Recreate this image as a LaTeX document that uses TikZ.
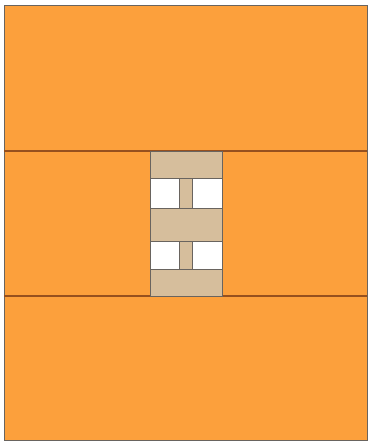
\documentclass[tikz,border=0pt]{standalone}
\usetikzlibrary{positioning}
\definecolor{SlabOrange}{RGB}{252,160,60}
\definecolor{ShaftTan}{RGB}{214,190,156}
\definecolor{JointBrown}{RGB}{150,80,30}
\definecolor{EdgeGrey}{RGB}{105,100,95}

\begin{document}
\begin{tikzpicture}[
        x=1pt, y=-1pt,
        slab/.style={fill=SlabOrange, draw=EdgeGrey, line width=0.8pt},
        joint/.style={draw=JointBrown, line width=1.2pt},
        shaft/.style={fill=ShaftTan, draw=EdgeGrey, line width=0.8pt},
        opening/.style={fill=white, draw=EdgeGrey, line width=0.8pt},
        course/.style={draw=EdgeGrey, line width=0.9pt}
    ]
        \useasboundingbox (0,0) rectangle (368,443);
        % outer block
        \draw[slab] (4,5) rectangle (367,440);
        \draw[joint] (4,151) -- (367,151);
        \draw[joint] (4,296) -- (367,296);
        % central shaft
        \draw[shaft] (150.5,151) rectangle (222.5,296);
        \draw[opening] (150.5,178) rectangle (179.5,208);
        \draw[opening] (192.5,178) rectangle (222.5,208);
        \draw[opening] (150.5,241) rectangle (179.5,269);
        \draw[opening] (192.5,241) rectangle (222.5,269);
        \foreach \yy in {178,208,241,269}
            \draw[course] (150.5,\yy) -- (222.5,\yy);
    \end{tikzpicture}
\end{document}
